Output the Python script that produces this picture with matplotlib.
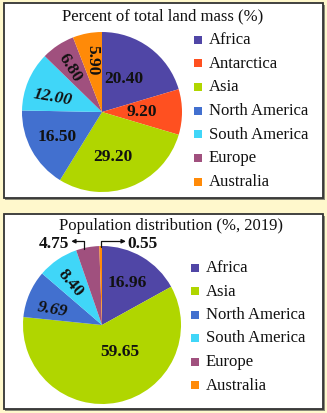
import numpy as np
import matplotlib.pyplot as plt
from matplotlib.patches import Rectangle

# data
land_labels = ["Africa", "Antarctica", "Asia", "North America",
               "South America", "Europe", "Australia"]
land_values = [20.40, 9.20, 29.20, 16.50, 12.00, 6.80, 5.90]

pop_labels = ["Africa", "Asia", "North America", "South America",
              "Europe", "Australia"]
pop_values = [16.96, 59.65, 9.69, 8.40, 4.75, 0.55]

colors = {
    "Africa": "#5046a6",
    "Antarctica": "#ff5020",
    "Asia": "#b0d600",
    "North America": "#4270cf",
    "South America": "#40d6f8",
    "Europe": "#a0507e",
    "Australia": "#ff8a08",
}

W, H = 327, 413
SERIF = "Liberation Serif"


def fx(px):
    return px / W


def fy(py):
    # pixel from top -> figure fraction
    return 1 - py / H


def panel(fig, x0, y0, x1, y1):
    fig.add_artist(Rectangle((fx(x0 + 1.5), fy(y1 + 1.5)), fx(x1 - x0), (y1 - y0) / H,
                             transform=fig.transFigure, facecolor="#8a8a7a",
                             edgecolor="none", zorder=0))
    fig.add_artist(Rectangle((fx(x0), fy(y1)), fx(x1 - x0), (y1 - y0) / H,
                             transform=fig.transFigure, facecolor="white",
                             edgecolor="#333333", linewidth=1.3, zorder=0.5))


def pie_axes(fig, cx, cy, r):
    ax = fig.add_axes([fx(cx - r), fy(cy + r), fx(2 * r), 2 * r / H])
    ax.set_zorder(2)
    ax.patch.set_visible(False)
    return ax


def legend(fig, labels, x, y0, step):
    for i, lab in enumerate(labels):
        y = y0 + i * step
        fig.add_artist(Rectangle((fx(x - 4), fy(y + 4)), fx(8), 8 / H,
                                 transform=fig.transFigure, zorder=3,
                                 facecolor=colors[lab], edgecolor="none"))
        fig.text(fx(x + 11), fy(y + 0.5), lab, family=SERIF, fontsize=12,
                 va="center", ha="left", color="#111111", zorder=3)


def inner_labels(ax, wedges, values, radius, nudge, rot, italic):
    for w, v, r, d, ro, it in zip(wedges, values, radius, nudge, rot, italic):
        if r is None:
            continue
        a = np.deg2rad((w.theta1 + w.theta2) / 2 + d)
        ax.text(r * np.cos(a), r * np.sin(a), f"{v:.2f}", ha="center", va="center",
                family=SERIF, fontweight="bold", fontsize=12.5, rotation=ro,
                style="italic" if it else "normal", color="#111111")


fig = plt.figure(figsize=(W / 100, H / 100), dpi=100)
fig.patch.set_facecolor("#fff8cc")

# top panel
panel(fig, 4, 3, 323, 198)
fig.text(fx(163), fy(16), "Percent of total land mass (%)", family=SERIF,
         fontsize=12, ha="center", va="center", color="#111111", zorder=3)
ax1 = pie_axes(fig, 102, 112, 80)
w1, _ = ax1.pie(land_values, colors=[colors[l] for l in land_labels],
                startangle=90, counterclock=False,
                wedgeprops=dict(linewidth=0))
ax1.set_xlim(-1, 1)
ax1.set_ylim(-1, 1)
inner_labels(ax1, w1, land_values,
             [0.5, 0.5, 0.58, 0.64, 0.64, 0.68, 0.66],
             [3, 0, -7, 0, 6, 2.5, 0],
             [0, 0, 0, 0, -10, -58, -90],
             [False, False, False, False, True, False, False])
legend(fig, land_labels, 198, 39.5, 23.7)

# bottom panel
panel(fig, 4, 214, 323, 409)
fig.text(fx(171), fy(226), "Population distribution (%, 2019)", family=SERIF,
         fontsize=12, ha="center", va="center", color="#111111", zorder=3)
ax2 = pie_axes(fig, 102, 325, 79)
w2, _ = ax2.pie(pop_values, colors=[colors[l] for l in pop_labels],
                startangle=90, counterclock=False,
                wedgeprops=dict(linewidth=0))
ax2.set_xlim(-1, 1)
ax2.set_ylim(-1, 1)
inner_labels(ax2, w2, pop_values,
             [0.62, 0.41, 0.65, 0.67, None, None],
             [0, 22, 6, 3, 0, 0],
             [0, 0, -10, -50, 0, 0],
             [False, False, True, False, False, False])
legend(fig, pop_labels, 195, 267.5, 23.5)

# small slices labelled outside with elbow arrows
for w, v, side in zip(w2[4:], pop_values[4:], [-1, 1]):
    mid = (w.theta1 + w.theta2) / 2
    a = np.deg2rad(mid + (3 if side < 0 else 0))
    sx, sy = 0.99 * np.cos(a), 0.99 * np.sin(a)
    ey = 1.06
    ex = sx + side * (0.16 if side < 0 else 0.32)
    ax2.annotate("", xy=(ex, ey), xytext=(sx, sy), annotation_clip=False,
                 arrowprops=dict(arrowstyle="-|>,head_length=0.25,head_width=0.12",
                                 connectionstyle="angle,angleA=90,angleB=0,rad=0",
                                 color="#111111", lw=0.9, shrinkA=0, shrinkB=0))
    ax2.text(ex + side * 0.02, 1.02, f"{v:.2f}", ha="right" if side < 0 else "left",
             va="center", family=SERIF, fontweight="bold", fontsize=12.5,
             color="#111111", clip_on=False)

fig.savefig("out.png", dpi=100, facecolor=fig.get_facecolor())
